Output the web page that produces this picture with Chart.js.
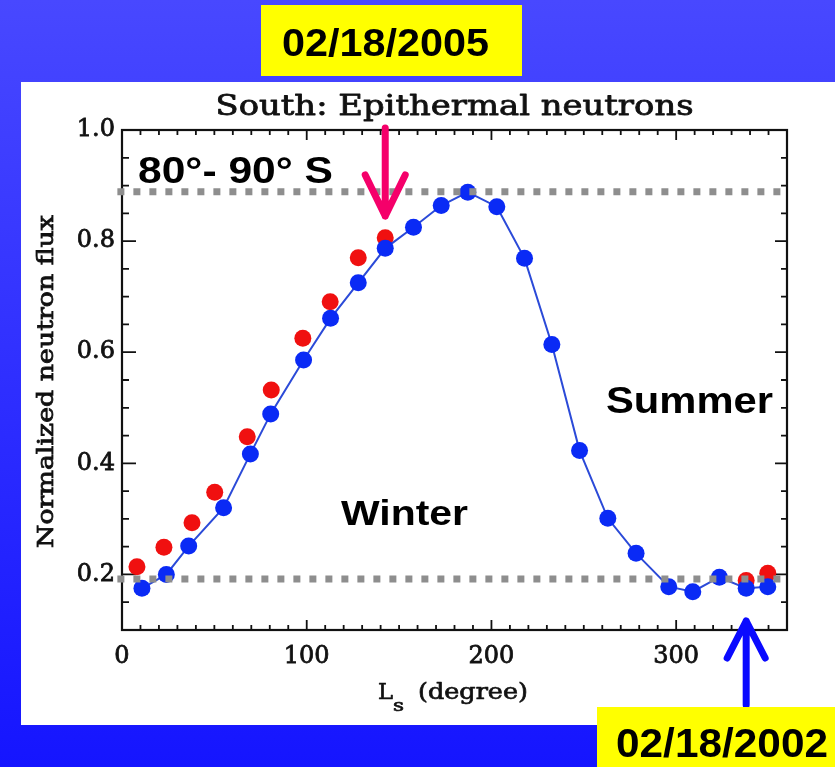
<!DOCTYPE html>
<html>
<head>
<meta charset="utf-8">
<script src="https://cdn.jsdelivr.net/npm/chart.js@4.4.1/dist/chart.umd.min.js"></script>
<style>
  html, body { margin: 0; padding: 0; background: #2e2eff; }
  canvas { display: block; }
</style>
</head>
<body>
<canvas id="c" width="835" height="767"></canvas>
<script>
// South polar cap (80°-90° S): normalized epithermal neutron flux vs. solar longitude
const lsBlue   = [10.8, 24.0, 36.1, 55.0, 69.5, 80.5, 98.3, 112.9, 127.9, 142.5, 157.8, 172.8,
                  187.2, 202.9, 217.9, 232.7, 247.7, 263.0, 278.3, 296.0, 309.0, 323.4, 337.9, 349.6];
const fluxBlue = [0.175, 0.200, 0.251, 0.320, 0.417, 0.489, 0.586, 0.661, 0.725, 0.787, 0.825, 0.864,
                  0.888, 0.862, 0.769, 0.614, 0.423, 0.301, 0.238, 0.178, 0.169, 0.195, 0.175, 0.178];

const lsRed    = [8.1, 22.7, 37.9, 50.2, 67.8, 80.8, 97.9, 112.7, 127.9, 142.5, 337.9, 349.6];
const fluxRed  = [0.214, 0.249, 0.293, 0.348, 0.448, 0.532, 0.625, 0.691, 0.770, 0.806, 0.189, 0.202];

// maximum / minimum reference levels (dotted lines)
const refLevels = [0.889, 0.192];
const refSpan   = [-2.5, 357];

const xTicks = [0, 100, 200, 300];
const yTicks = [0.2, 0.4, 0.6, 0.8, 1.0];

// dated observations marked with arrows
const dateLabels = ['02/18/2005', '02/18/2002'];
const dateLs     = [142.5, 337.9];

const SERIF = '"DejaVu Serif", serif';
const SANS  = '"Liberation Sans", Arial, sans-serif';

function fitText(ctx, text, x, y, font, width, color, stroke) {
  ctx.save();
  ctx.font = font;
  ctx.fillStyle = color || '#000';
  ctx.textBaseline = 'alphabetic';
  ctx.textAlign = 'left';
  const w = ctx.measureText(text).width;
  ctx.translate(x, y);
  ctx.scale(width / w, 1);
  ctx.fillText(text, 0, 0);
  if (stroke) {
    ctx.strokeStyle = color || '#000';
    ctx.lineWidth = stroke;
    ctx.lineJoin = 'round';
    ctx.strokeText(text, 0, 0);
  }
  ctx.restore();
}

function arrow(ctx, x, y0, yTip, dx, dy, color) {
  ctx.save();
  ctx.strokeStyle = color;
  ctx.lineWidth = 7;
  ctx.lineCap = 'round';
  ctx.lineJoin = 'round';
  ctx.beginPath();
  ctx.moveTo(x, y0);
  ctx.lineTo(x, yTip);
  ctx.moveTo(x - dx, yTip + dy);
  ctx.lineTo(x, yTip);
  ctx.lineTo(x + dx, yTip + dy);
  ctx.stroke();
  ctx.restore();
}

const decor = {
  id: 'decor',
  beforeDraw(chart) {
    const ctx = chart.ctx;
    const g = ctx.createLinearGradient(0, 0, 0, 767);
    g.addColorStop(0, '#4848ff');
    g.addColorStop(1, '#1515ff');
    ctx.save();
    ctx.fillStyle = g;
    ctx.fillRect(0, 0, 835, 767);
    ctx.fillStyle = '#ffffff';
    ctx.fillRect(21, 82, 814, 643);
    ctx.restore();
  },
  beforeDatasetsDraw(chart) {
    const ctx = chart.ctx;
    const a = chart.chartArea;
    const xs = chart.scales.x, ys = chart.scales.y;
    ctx.save();
    ctx.strokeStyle = '#111';
    ctx.lineWidth = 2.2;
    ctx.strokeRect(a.left, a.top, a.right - a.left, a.bottom - a.top);
    ctx.lineWidth = 1.8;
    ctx.beginPath();
    // inward ticks on all four sides
    for (let v = 10; v < 360; v += 10) {
      const px = xs.getPixelForValue(v);
      const len = (v % 100 === 0) ? 10 : 5;
      ctx.moveTo(px, a.bottom); ctx.lineTo(px, a.bottom - len);
      ctx.moveTo(px, a.top);    ctx.lineTo(px, a.top + len);
    }
    for (let k = 3; k < 20; k++) {
      const v = k * 0.05;
      const py = ys.getPixelForValue(v);
      const major = (k % 4 === 0);
      ctx.moveTo(a.left, py);  ctx.lineTo(a.left + (major ? 14 : 7), py);
      ctx.moveTo(a.right, py); ctx.lineTo(a.right - (major ? 12 : 6), py);
    }
    ctx.stroke();
    ctx.restore();
  },
  afterDraw(chart) {
    const ctx = chart.ctx;
    const a = chart.chartArea;
    const xs = chart.scales.x;

    // plot title
    fitText(ctx, 'South: Epithermal neutrons', (a.left + a.right) / 2 - 239, 115,
            '28px ' + SERIF, 478, '#111', 0.8);

    // axis titles
    ctx.save();
    ctx.font = '23px ' + SERIF;
    ctx.fillStyle = '#111';
    ctx.strokeStyle = '#111';
    ctx.lineWidth = 0.8;
    const yt = 'Normalized neutron flux';
    const yw = ctx.measureText(yt).width;
    ctx.translate(53, (a.top + a.bottom) / 2 + 1.5);
    ctx.rotate(-Math.PI / 2);
    ctx.scale(333 / yw, 1);
    ctx.textAlign = 'center';
    ctx.fillText(yt, 0, 0);
    ctx.strokeText(yt, 0, 0);
    ctx.restore();

    fitText(ctx, 'L', 378, 699, '23px ' + SERIF, 15, '#111', 0.7);
    fitText(ctx, 's', 393, 711, '17px ' + SERIF, 11, '#111', 0.7);
    fitText(ctx, '(degree)', 418, 699, '23px ' + SERIF, 110, '#111', 0.7);

    // region labels
    fitText(ctx, '80°- 90° S', 138, 183, 'bold 37px ' + SANS, 195);
    fitText(ctx, 'Winter', 341, 525, 'bold 35px ' + SANS, 127);
    fitText(ctx, 'Summer', 606, 413, 'bold 37px ' + SANS, 167);

    // date arrows
    const x05 = xs.getPixelForValue(dateLs[0]);
    const x02 = xs.getPixelForValue(dateLs[1]);
    arrow(ctx, x05, 128, 216, 20, -41, '#f5006a');
    arrow(ctx, x02, 705, 621, 19, 37, '#0a0aff');

    // date boxes
    ctx.save();
    ctx.fillStyle = '#ffff00';
    ctx.fillRect(261, 5, 261, 71);
    ctx.fillRect(597, 707, 238, 60);
    ctx.restore();
    fitText(ctx, dateLabels[0], 282, 56, 'bold 39px ' + SANS, 207);
    fitText(ctx, dateLabels[1], 616, 757, 'bold 40px ' + SANS, 212);
  }
};

const pts = (xsArr, ysArr) => xsArr.map((x, i) => ({ x: x, y: ysArr[i] }));
const refLine = lvl => refSpan.map(x => ({ x: x, y: lvl }));

const tickFont = { family: SERIF, size: 24 };

new Chart(document.getElementById('c'), {
  type: 'scatter',
  data: {
    datasets: [
      {
        data: refLine(refLevels[0]), showLine: true, order: 0, clip: false,
        borderColor: '#8e8e8e', borderWidth: 7, borderDash: [7, 9], borderCapStyle: 'butt',
        pointRadius: 0
      },
      {
        data: refLine(refLevels[1]), showLine: true, order: 0, clip: false,
        borderColor: '#8e8e8e', borderWidth: 7, borderDash: [7, 9], borderCapStyle: 'butt',
        pointRadius: 0
      },
      {
        data: pts(lsBlue, fluxBlue), showLine: true, order: 1, clip: false,
        borderColor: '#2b4ad8', borderWidth: 2, tension: 0,
        pointRadius: 8.5, pointBackgroundColor: '#0a2af5', pointBorderWidth: 0
      },
      {
        data: pts(lsRed, fluxRed), order: 2, clip: false,
        pointRadius: 8.5, pointBackgroundColor: '#f01010', pointBorderWidth: 0
      }
    ]
  },
  options: {
    responsive: false,
    animation: false,
    events: [],
    layout: { padding: { left: 0, top: 130, right: 48, bottom: 0 } },
    plugins: { legend: { display: false }, tooltip: { enabled: false }, title: { display: false } },
    scales: {
      x: {
        type: 'linear', min: 0, max: 360,
        afterBuildTicks: s => { s.ticks = xTicks.map(v => ({ value: v })); },
        afterFit: s => { s.height = 137; },
        grid: { display: false, drawTicks: false },
        border: { display: false },
        ticks: { font: tickFont, color: '#111', padding: 12, maxRotation: 0,
                 textStrokeColor: '#111', textStrokeWidth: 0.8, callback: v => String(v) }
      },
      y: {
        type: 'linear', min: 0.1, max: 1.0,
        afterBuildTicks: s => { s.ticks = yTicks.map(v => ({ value: v })); },
        afterFit: s => { s.width = 122; },
        grid: { display: false, drawTicks: false },
        border: { display: false },
        ticks: { font: tickFont, color: '#111', padding: 7,
                 textStrokeColor: '#111', textStrokeWidth: 0.8, callback: v => v.toFixed(1) }
      }
    }
  },
  plugins: [decor]
});
</script>
</body>
</html>
